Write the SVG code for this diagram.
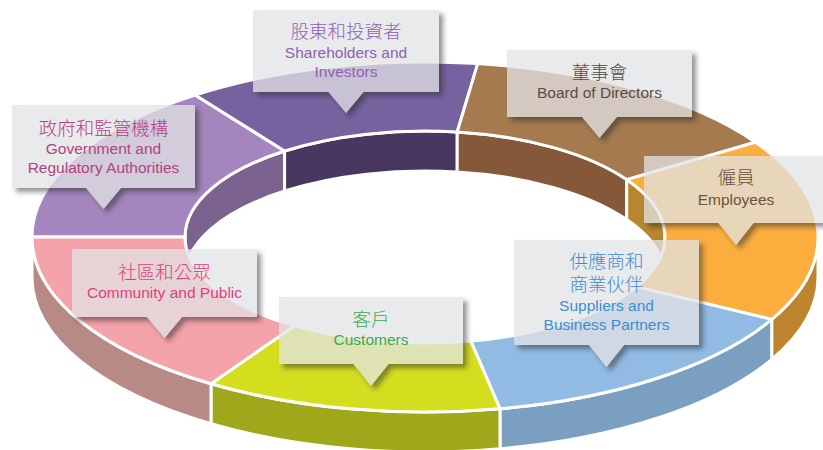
<svg xmlns="http://www.w3.org/2000/svg" width="823" height="450" viewBox="0 0 823 450">
  <style>
    .seg { stroke: #ffffff; stroke-width: 3; stroke-linejoin: round; }
    .box { fill: #e2e3e5; filter: url(#sh); }
    .zh { font-family: "Noto Sans CJK TC", "Noto Sans CJK SC", sans-serif; font-size: 18.5px; font-weight: 300; text-anchor: middle; }
    .en { font-family: "Liberation Sans", Arial, sans-serif; font-size: 15.5px; text-anchor: middle; }
  </style>
  <defs>
    <!-- soft drop shadow cast outside the callout, callout body kept translucent -->
    <filter id="sh" x="-10%" y="-10%" width="130%" height="140%">
      <feGaussianBlur in="SourceAlpha" stdDeviation="2.5"/>
      <feOffset dx="4" dy="4" result="blur"/>
      <feFlood flood-color="#2a2a2a" flood-opacity="0.5"/>
      <feComposite in2="blur" operator="in" result="shadow"/>
      <feComposite in="shadow" in2="SourceAlpha" operator="out" result="outer"/>
      <feComponentTransfer in="SourceGraphic" result="body">
        <feFuncA type="linear" slope="0.75"/>
      </feComponentTransfer>
      <feMerge>
        <feMergeNode in="outer"/>
        <feMergeNode in="body"/>
      </feMerge>
    </filter>
    <clipPath id="hole">
      <ellipse cx="425" cy="237" rx="240" ry="106"/>
    </clipPath>
  </defs>

  <!-- ring: centre (425,237), outer 393x175, inner 240x106, depth 40 -->
  <g id="ring">
    <!-- outer front wall -->
    <g id="ring-side" class="seg">
      <path fill="#bd8530" d="M818,237 A393,175 0 0 1 771.7,319.4 L771.7,359.4 A393,175 0 0 0 818,277 Z"/>
      <path fill="#7a9fc0" d="M771.7,319.4 A393,175 0 0 1 500,408.8 L500,448.8 A393,175 0 0 0 771.7,359.4 Z"/>
      <path fill="#9ea81a" d="M500,408.8 A393,175 0 0 1 211,383.8 L211,423.8 A393,175 0 0 0 500,448.8 Z"/>
      <path fill="#b88a85" d="M211,383.8 A393,175 0 0 1 32,237 L32,277 A393,175 0 0 0 211,423.8 Z"/>
    </g>
    <!-- inner back wall seen through the hole -->
    <g id="ring-inner" class="seg" clip-path="url(#hole)">
      <path fill="#7b628f" d="M185,237 A240,106 0 0 1 284.6,151 L284.6,191 A240,106 0 0 0 185,277 Z"/>
      <path fill="#48385f" d="M284.6,151 A240,106 0 0 1 457.2,132 L457.2,172 A240,106 0 0 0 284.6,191 Z"/>
      <path fill="#86583a" d="M457.2,132 A240,106 0 0 1 626.7,179.6 L626.7,219.6 A240,106 0 0 0 457.2,172 Z"/>
      <path fill="#b8862e" d="M626.7,179.6 A240,106 0 0 1 665,237 L665,277 A240,106 0 0 0 626.7,219.6 Z"/>
    </g>
    <!-- top face -->
    <g id="ring-top" class="seg">
      <path id="seg-gov" fill="#a585be" d="M32,237 A393,175 0 0 1 195.1,95.1 L284.6,151 A240,106 0 0 0 185,237 Z"/>
      <path id="seg-share" fill="#7762a0" d="M195.1,95.1 A393,175 0 0 1 477.7,63.6 L457.2,132 A240,106 0 0 0 284.6,151 Z"/>
      <path id="seg-board" fill="#a57a4f" d="M477.7,63.6 A393,175 0 0 1 755.4,142.2 L626.7,179.6 A240,106 0 0 0 457.2,132 Z"/>
      <path id="seg-emp" fill="#fbae3e" d="M755.4,142.2 A393,175 0 0 1 771.7,319.4 L636.7,286.9 A240,106 0 0 0 626.7,179.6 Z"/>
      <path id="seg-sup" fill="#92bbe3" d="M771.7,319.4 A393,175 0 0 1 500,408.8 L470.8,341 A240,106 0 0 0 636.7,286.9 Z"/>
      <path id="seg-cust" fill="#d5dd1f" d="M500,408.8 A393,175 0 0 1 211,383.8 L294.3,325.9 A240,106 0 0 0 470.8,341 Z"/>
      <path id="seg-comm" fill="#f5a3aa" d="M211,383.8 A393,175 0 0 1 32,237 L185,237 A240,106 0 0 0 294.3,325.9 Z"/>
    </g>
  </g>

  <!-- callouts -->
  <g id="shareholders">
    <path class="box" d="M253,10 H439 V92 H363.5 L346,113 L328.5,92 H253 Z"/>
    <g fill="#8f5fb5">
      <text class="zh" x="346" y="38">股東和投資者</text>
      <text class="en" x="346" y="58">Shareholders and</text>
      <text class="en" x="346" y="77">Investors</text>
    </g>
  </g>

  <g id="board">
    <path class="box" d="M507,50 H692 V117 H617 L599.5,138 L582,117 H507 Z"/>
    <g fill="#5b4b44">
      <text class="zh" x="599.5" y="79">董事會</text>
      <text class="en" x="599.5" y="98">Board of Directors</text>
    </g>
  </g>

  <g id="employees">
    <path class="box" d="M644,156 H828 V223 H753.5 L736,245 L718.5,223 H644 Z"/>
    <g fill="#6e5140">
      <text class="zh" x="736" y="184">僱員</text>
      <text class="en" x="736" y="205">Employees</text>
    </g>
  </g>

  <g id="suppliers">
    <path class="box" d="M514,240 H699 V345 H624 L606.5,367 L589,345 H514 Z"/>
    <g fill="#3b8ed3">
      <text class="zh" x="606.5" y="268">供應商和</text>
      <text class="zh" x="606.5" y="291">商業伙伴</text>
      <text class="en" x="606.5" y="311">Suppliers and</text>
      <text class="en" x="606.5" y="330">Business Partners</text>
    </g>
  </g>

  <g id="customers">
    <path class="box" d="M279,297 H463 V364 H388.5 L371,386 L353.5,364 H279 Z"/>
    <g fill="#3aaa50">
      <text class="zh" x="371" y="326">客戶</text>
      <text class="en" x="371" y="345">Customers</text>
    </g>
  </g>

  <g id="community">
    <path class="box" d="M72,249 H257 V317 H182 L164.5,338 L147,317 H72 Z"/>
    <g fill="#e0407a">
      <text class="zh" x="164.5" y="279">社區和公眾</text>
      <text class="en" x="164.5" y="298">Community and Public</text>
    </g>
  </g>

  <g id="government">
    <path class="box" d="M12,105 H195 V188 H121 L103.5,209 L86,188 H12 Z"/>
    <g fill="#b3427f">
      <text class="zh" x="103.5" y="135">政府和監管機構</text>
      <text class="en" x="103.5" y="154">Government and</text>
      <text class="en" x="103.5" y="173">Regulatory Authorities</text>
    </g>
  </g>
</svg>
